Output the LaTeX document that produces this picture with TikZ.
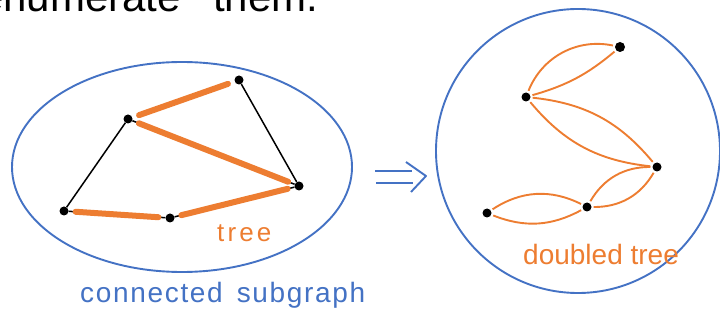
\documentclass[tikz,border=0pt]{standalone}
\usepackage{fontspec}
\setmainfont{Liberation Sans}
\usetikzlibrary{arrows.meta}
\definecolor{hblue}{HTML}{4472C4}
\definecolor{horange}{HTML}{ED7D31}
\begin{document}
\begin{tikzpicture}[x=1pt,y=-1pt,
  vtx/.style={circle,fill=black,inner sep=0pt,minimum size=9pt},
  gedge/.style={black,line width=1.5pt},
  tedge/.style={horange,line width=6pt,line cap=round,shorten <=7pt,shorten >=7pt},
  dedge/.style={horange,line width=1.9pt,shorten <=2pt,shorten >=2pt},
  ring/.style={hblue,line width=1.9pt},
  hand/.style={inner sep=0pt,anchor=base west}]
\useasboundingbox (0,0) rectangle (720,320);
\clip (0,0) rectangle (720,320);
% top text (cut off at the upper edge)
\node[hand,font=\fontsize{42}{46}\selectfont] (t1) at (-20,12) {enumerate};
\node[hand,font=\fontsize{42}{46}\selectfont] (t2) at (213,12) {them.};
% left ellipse
\draw[ring] (182,167) ellipse [x radius=170pt, y radius=105pt];
\node[vtx] (A) at (128,119) {};
\node[vtx] (B) at (239,80) {};
\node[vtx] (C) at (299,186) {};
\node[vtx] (D) at (64,211) {};
\node[vtx] (E) at (170,218) {};
\draw[gedge] (A) -- (D);
\draw[gedge] (B) -- (C);
\draw[gedge] (A) -- (C);
\draw[gedge] (D) -- (E);
\draw[gedge] (E) -- (C);
\draw[tedge] (A) -- (B);
\draw[tedge] (A) -- (C);
\draw[tedge] (D) -- (E);
\draw[tedge] (E) -- (C);
\node[hand,text=horange,font=\fontsize{26}{30}\selectfont\addfontfeature{LetterSpace=12}] (tree) at (217,242) {tree};
\node[hand,text=hblue,font=\fontsize{28}{32}\selectfont\addfontfeature{LetterSpace=6}] (cs) at (80,302) {connected\hspace{14pt}subgraph};
% implication arrow
\coordinate (a1) at (375,171);
\coordinate (a2) at (412,171);
\coordinate (a3) at (376,183);
\coordinate (a4) at (413,183);
\coordinate (h1) at (406,162);
\coordinate (h2) at (426,176);
\coordinate (h3) at (411,192);
\draw[ring] (a1) -- (a2);
\draw[ring] (a3) -- (a4);
\draw[ring,line join=round] (h1) -- (h2) -- (h3);
% right circle
\draw[ring] (578,151) circle [radius=142pt];
\node[vtx,minimum size=10pt] (P1) at (620,47) {};
\node[vtx] (P2) at (526,97) {};
\node[vtx] (P3) at (657,167) {};
\node[vtx] (P4) at (587,207) {};
\node[vtx] (P5) at (487,213) {};
\draw[dedge] (P2) to[bend left=40] (P1);
\draw[dedge] (P2) to[bend right=12] (P1);
\draw[dedge] (P2) to[bend left=22] (P3);
\draw[dedge] (P2) to[bend right=22] (P3);
\draw[dedge] (P4) to[bend left=30] (P3);
\draw[dedge] (P4) to[bend right=30] (P3);
\draw[dedge] (P5) to[bend left=30] (P4);
\draw[dedge] (P5) to[bend right=25] (P4);
\node[hand,text=horange,font=\fontsize{28}{32}\selectfont] (dt) at (523,265) {doubled tree};
\end{tikzpicture}
\end{document}
